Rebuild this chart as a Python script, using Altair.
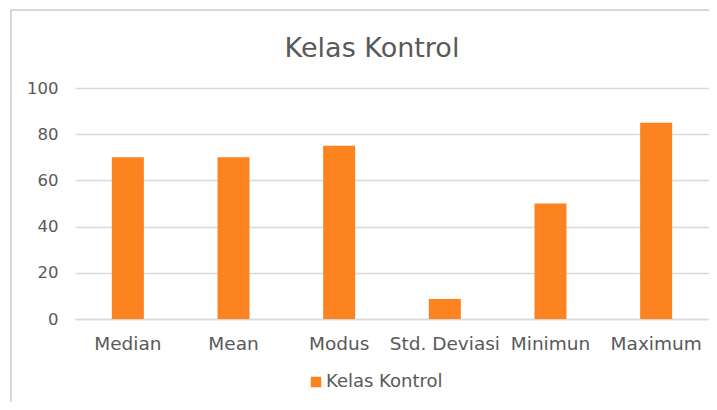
import altair as alt
import pandas as pd

categories = ["Median", "Mean", "Modus", "Std. Deviasi", "Minimun", "Maximum"]
values = [70, 70, 75, 8.7, 50, 85]
series = "Kelas Kontrol"

df = pd.DataFrame({"Statistik": categories, "Nilai": values, "Seri": [series] * len(categories)})

FONT = "DejaVu Sans"
GREY = "#595959"

bars = alt.Chart(df).mark_bar(size=32).encode(
    x=alt.X("Statistik:N", sort=categories, title=None,
            scale=alt.Scale(paddingInner=0.7, paddingOuter=0.35),
            axis=alt.Axis(labelAngle=0, ticks=False, domain=True, domainColor="#d9d9d9",
                          domainWidth=1.5, labelFontSize=18.5, labelColor=GREY, labelFont=FONT,
                          labelPadding=15, grid=False)),
    y=alt.Y("Nilai:Q", title=None, scale=alt.Scale(domain=[0, 100]),
            axis=alt.Axis(values=[0, 20, 40, 60, 80, 100], ticks=False, domain=False,
                          gridColor="#d9d9d9", gridWidth=1.5, labelFontSize=16.5,
                          labelColor=GREY, labelFont=FONT, labelPadding=17)),
    color=alt.Color("Seri:N", scale=alt.Scale(range=["#FD8320"]),
                    legend=alt.Legend(title=None, orient="none", legendX=232, legendY=285,
                                      symbolType="square", symbolSize=110, symbolStrokeWidth=0,
                                      labelOffset=1, labelFontSize=18, labelColor=GREY,
                                      labelFont=FONT)),
)

border = alt.Chart(df).mark_rect(filled=False, stroke="#d9d9d9", strokeWidth=1.5, clip=False).encode(
    x=alt.value(-64), x2=alt.value(700), y=alt.value(-78), y2=alt.value(400)
)

chart = alt.layer(border, bars).properties(
    width=634, height=231,
    title=alt.TitleParams(series, fontSize=27, font=FONT, color=GREY, fontWeight="normal",
                          anchor="middle", dx=-20, offset=-54),
    autosize=alt.AutoSizeParams(type="none"),
    padding={"left": 67, "top": 80, "right": 0, "bottom": 83},
).configure_view(stroke=None)

chart.save("out.html", embed_options={"renderer": "svg", "actions": False})
